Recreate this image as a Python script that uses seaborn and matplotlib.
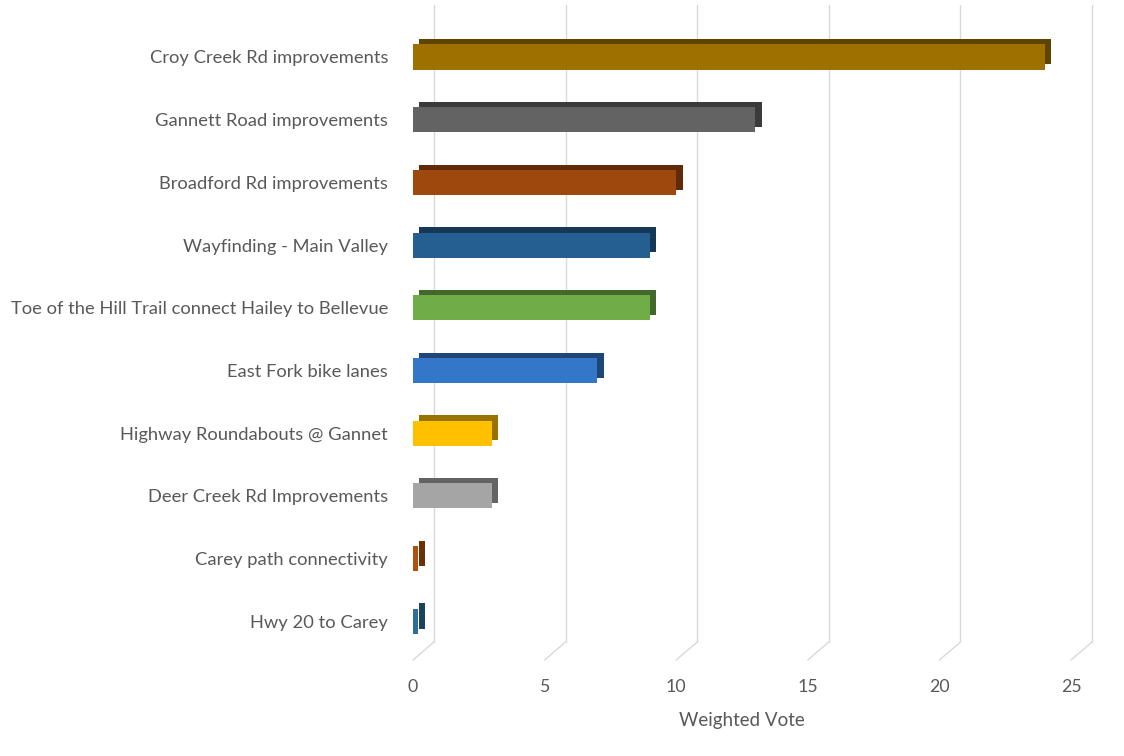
import matplotlib
matplotlib.use("Agg")
import matplotlib.pyplot as plt
import matplotlib.patheffects as pe
import matplotlib.transforms as mtransforms
import seaborn as sns
import pandas as pd

categories = [
    "Croy Creek Rd improvements",
    "Gannett Road improvements",
    "Broadford Rd improvements",
    "Wayfinding - Main Valley",
    "Toe of the Hill Trail connect Hailey to Bellevue",
    "East Fork bike lanes",
    "Highway Roundabouts @ Gannet",
    "Deer Creek Rd Improvements",
    "Carey path connectivity",
    "Hwy 20 to Carey",
]
votes = [24, 13, 10, 9, 9, 7, 3, 3, 0.2, 0.2]
colors = ["#9E7000", "#636363", "#9E480E", "#255E91", "#70AD47",
          "#3277C8", "#FFC000", "#A5A5A5", "#B0520F", "#2E6E9A"]
xticks = [0, 5, 10, 15, 20, 25]
xlabel = "Weighted Vote"

sns.set_theme(style="white")
plt.rcParams["font.family"] = ["Lato", "DejaVu Sans"]

df = pd.DataFrame({"category": categories, "vote": votes})

W, H = 1124, 756
fig = plt.figure(figsize=(W / 100, H / 100), dpi=100)
ax = fig.add_axes([413 / W, 1 - 660 / H, 658 / W, 655 / H])

sns.barplot(data=df, x="vote", y="category", hue="category", palette=colors,
            legend=False, orient="h", width=0.4, ax=ax, saturation=1,
            linewidth=0)

ax.set_xlim(0, 25)
ax.set_ylim(9.618, -0.829)
ax.set_xticks(xticks)

# 3D-like extrusion for bars
for p in ax.patches:
    p.set_linewidth(0)
    p.set_path_effects([pe.SimplePatchShadow(offset=(4.6, 3.8), alpha=1, rho=0.6),
                        pe.Normal()])
    p.set_zorder(3)

# back-wall gridlines with floor diagonals
grid_color = "#d9d9d9"
dx_px, dy_px = 21, 18
shift = mtransforms.ScaledTranslation(dx_px / 100, 0, fig.dpi_scale_trans)
ybase = dy_px / 655
for t in ax.get_xticks():
    ln = ax.axvline(t, ymin=ybase, ymax=1.0, color=grid_color, lw=1, zorder=0)
    ln.set_transform(ln.get_transform() + shift)
    ln.set_clip_on(False)
    ax.annotate("", xy=(t, 0), xycoords=ax.get_xaxis_transform(),
                xytext=(dx_px * 0.72, dy_px * 0.72), textcoords="offset points",
                arrowprops=dict(arrowstyle="-", color=grid_color, lw=1,
                                shrinkA=0, shrinkB=0),
                annotation_clip=False, zorder=0)

for s in ax.spines.values():
    s.set_visible(False)

ax.tick_params(axis="y", length=0, pad=18, labelsize=13.2, labelcolor="#595959")
ax.tick_params(axis="x", length=0, pad=14, labelsize=12.8, labelcolor="#595959")
ax.set_ylabel("")
ax.set_xlabel(xlabel, fontsize=13.5, color="#595959", labelpad=12)

fig.savefig("out.png", dpi=100)
